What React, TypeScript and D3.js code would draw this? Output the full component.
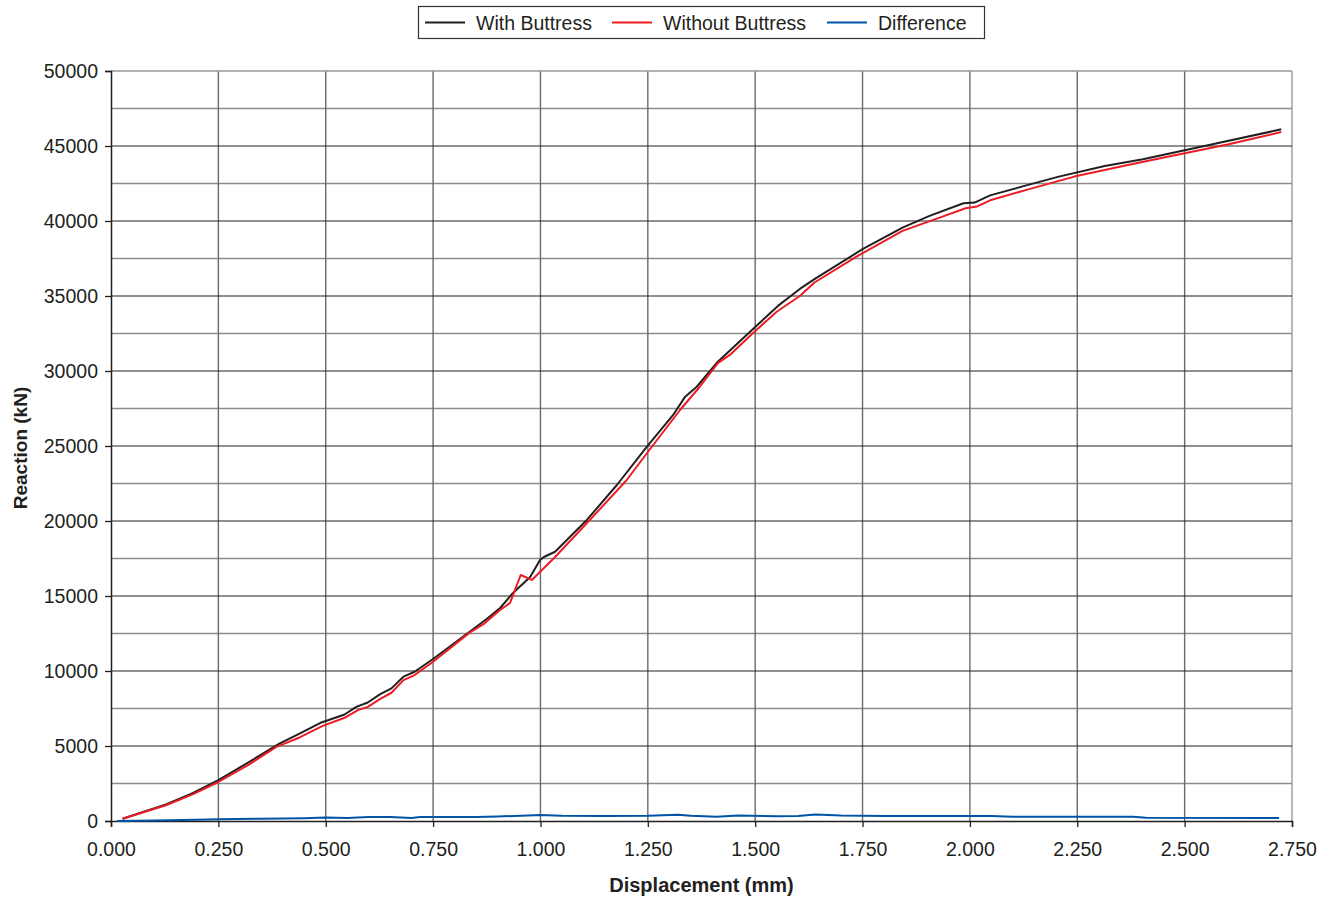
import React, { useEffect, useRef } from 'react';
import * as d3 from 'd3';

// displacement (mm), reaction (kN)
const withButtress: [number, number][] = [
  [0.027, 150], [0.128, 1110], [0.19, 1850], [0.25, 2720], [0.322, 3940], [0.392, 5160],
  [0.439, 5830], [0.49, 6570], [0.517, 6830], [0.544, 7100], [0.571, 7610], [0.598, 7900],
  [0.626, 8440], [0.653, 8840], [0.681, 9620], [0.707, 9950], [0.75, 10800], [0.828, 12470],
  [0.874, 13450], [0.906, 14200], [0.936, 15200], [0.976, 16270], [0.999, 17400], [1.008, 17600],
  [1.034, 17950], [1.108, 20070], [1.178, 22400], [1.247, 24930], [1.309, 27070], [1.337, 28290],
  [1.364, 28950], [1.413, 30620], [1.5, 32930], [1.553, 34340], [1.604, 35470], [1.638, 36120],
  [1.75, 38120], [1.843, 39560], [1.906, 40340], [1.985, 41180], [2.011, 41230], [2.047, 41710],
  [2.127, 42340], [2.207, 42960], [2.314, 43670], [2.403, 44110], [2.5, 44710], [2.565, 45110],
  [2.725, 46110]
];

const withoutButtress: [number, number][] = [
  [0.027, 150], [0.128, 1050], [0.19, 1780], [0.25, 2600], [0.322, 3780], [0.385, 4940],
  [0.439, 5570], [0.493, 6340], [0.544, 6880], [0.575, 7390], [0.598, 7610], [0.626, 8130],
  [0.653, 8550], [0.681, 9390], [0.707, 9730], [0.75, 10620], [0.835, 12560], [0.87, 13180],
  [0.906, 14070], [0.929, 14530], [0.954, 16400], [0.98, 16070], [1.034, 17600], [1.111, 19950],
  [1.2, 22700], [1.25, 24600], [1.325, 27400], [1.371, 28950], [1.413, 30530], [1.441, 31070],
  [1.495, 32530], [1.55, 33950], [1.604, 35000], [1.638, 35900], [1.736, 37630], [1.843, 39340],
  [1.923, 40160], [1.99, 40850], [2.016, 40960], [2.047, 41380], [2.136, 42110], [2.243, 42960],
  [2.376, 43780], [2.5, 44510], [2.6, 45100], [2.725, 45930]
];

const difference: [number, number][] = [
  [0.014, 0], [0.1, 30], [0.2, 80], [0.25, 110], [0.35, 150], [0.45, 190], [0.5, 230],
  [0.55, 200], [0.6, 260], [0.65, 270], [0.7, 200], [0.72, 270], [0.85, 270], [0.9, 300],
  [1.0, 400], [1.05, 350], [1.15, 330], [1.25, 350], [1.32, 420], [1.35, 350], [1.41, 280],
  [1.46, 360], [1.55, 320], [1.6, 340], [1.64, 430], [1.7, 360], [1.8, 340], [2.0, 340],
  [2.05, 330], [2.1, 280], [2.38, 280], [2.41, 220], [2.72, 200]
];

const xTicks = [0, 0.25, 0.5, 0.75, 1, 1.25, 1.5, 1.75, 2, 2.25, 2.5, 2.75];
const yTicks = [0, 5000, 10000, 15000, 20000, 25000, 30000, 35000, 40000, 45000, 50000];
const yMinor = [2500, 7500, 12500, 17500, 22500, 27500, 32500, 37500, 42500, 47500];

const seriesNames = ['With Buttress', 'Without Buttress', 'Difference'];
const seriesColors = ['#231f20', '#ed1c24', '#0054a6'];

const W = 1332;
const H = 899;
const plot = { left: 111, right: 1292, top: 71, bottom: 821 };
const font = 'Liberation Sans, Arial, Helvetica, sans-serif';
const ink = '#231f20';

function App() {
  const ref = useRef<SVGSVGElement>(null);

  useEffect(() => {
    const svg = d3.select(ref.current);
    svg.selectAll('*').remove();

    const x = d3.scaleLinear().domain([0, 2.75]).range([plot.left, plot.right]);
    const y = d3.scaleLinear().domain([0, 50000]).range([plot.bottom, plot.top]);

    const g = svg.append('g');

    // grid
    g.selectAll('.minor')
      .data(yMinor)
      .enter()
      .append('line')
      .attr('x1', plot.left).attr('x2', plot.right)
      .attr('y1', d => y(d)).attr('y2', d => y(d))
      .attr('stroke', '#8c8c8c').attr('stroke-width', 1.4);
    g.selectAll('.vgrid')
      .data(xTicks.slice(1))
      .enter()
      .append('line')
      .attr('x1', d => x(d)).attr('x2', d => x(d))
      .attr('y1', plot.top).attr('y2', plot.bottom)
      .attr('stroke', d => (d === 2.75 ? '#9a9a9a' : '#6a6a6a')).attr('stroke-width', 1.4);
    g.selectAll('.major')
      .data(yTicks.slice(1))
      .enter()
      .append('line')
      .attr('x1', plot.left).attr('x2', plot.right)
      .attr('y1', d => y(d)).attr('y2', d => y(d))
      .attr('stroke', d => (d === 50000 ? '#9a9a9a' : ink)).attr('stroke-width', d => (d === 50000 ? 1.4 : 1.1));

    // axes
    const yAxis = d3.axisLeft(y).tickValues(yTicks).tickSize(6).tickPadding(7).tickFormat(d3.format('d'));
    const xAxis = d3.axisBottom(x).tickValues(xTicks).tickSize(6).tickPadding(15).tickFormat(d3.format('.3f'));

    const ya = g.append('g').attr('transform', `translate(${plot.left},0)`).call(yAxis);
    const xa = g.append('g').attr('transform', `translate(0,${plot.bottom})`).call(xAxis);
    [ya, xa].forEach(a => {
      a.select('.domain').attr('stroke', ink).attr('stroke-width', 1.5);
      a.selectAll('.tick line').attr('stroke', ink).attr('stroke-width', 1.3);
      a.selectAll('.tick text')
        .attr('fill', ink)
        .style('font-family', font)
        .style('font-size', '19.5px');
    });

    // lines
    const line = d3.line<[number, number]>().x(d => x(d[0])).y(d => y(d[1]));
    [difference, withButtress, withoutButtress].forEach((s, i) => {
      const ci = [2, 0, 1][i];
      g.append('path')
        .attr('d', line(s))
        .attr('fill', 'none')
        .attr('stroke', seriesColors[ci])
        .attr('stroke-width', 2)
        .attr('stroke-linejoin', 'round');
    });

    // titles
    g.append('text')
      .attr('x', (plot.left + plot.right) / 2)
      .attr('y', 892)
      .attr('text-anchor', 'middle')
      .attr('fill', ink)
      .style('font-family', font)
      .style('font-size', '20px')
      .style('font-weight', 'bold')
      .text('Displacement (mm)');
    g.append('text')
      .attr('transform', `translate(27,${(plot.top + plot.bottom) / 2 + 2}) rotate(-90)`)
      .attr('text-anchor', 'middle')
      .attr('fill', ink)
      .style('font-family', font)
      .style('font-size', '19px')
      .style('font-weight', 'bold')
      .text('Reaction (kN)');

    // legend
    const lg = svg.append('g');
    lg.append('rect')
      .attr('x', 418.5).attr('y', 6.5).attr('width', 566).attr('height', 32)
      .attr('fill', 'white').attr('stroke', '#333').attr('stroke-width', 1.2);
    const starts = [425, 612, 827];
    seriesNames.forEach((name, i) => {
      lg.append('line')
        .attr('x1', starts[i]).attr('x2', starts[i] + 40)
        .attr('y1', 22.5).attr('y2', 22.5)
        .attr('stroke', seriesColors[i]).attr('stroke-width', 2);
      lg.append('text')
        .attr('x', starts[i] + 51)
        .attr('y', 29.5)
        .attr('fill', ink)
        .style('font-family', font)
        .style('font-size', '19.5px')
        .text(name);
    });
  }, []);

  return (
    <svg
      ref={ref}
      width={W}
      height={H}
      style={{ position: 'absolute', left: 0, top: 0, background: 'white' }}
    />
  );
}

export default App;
